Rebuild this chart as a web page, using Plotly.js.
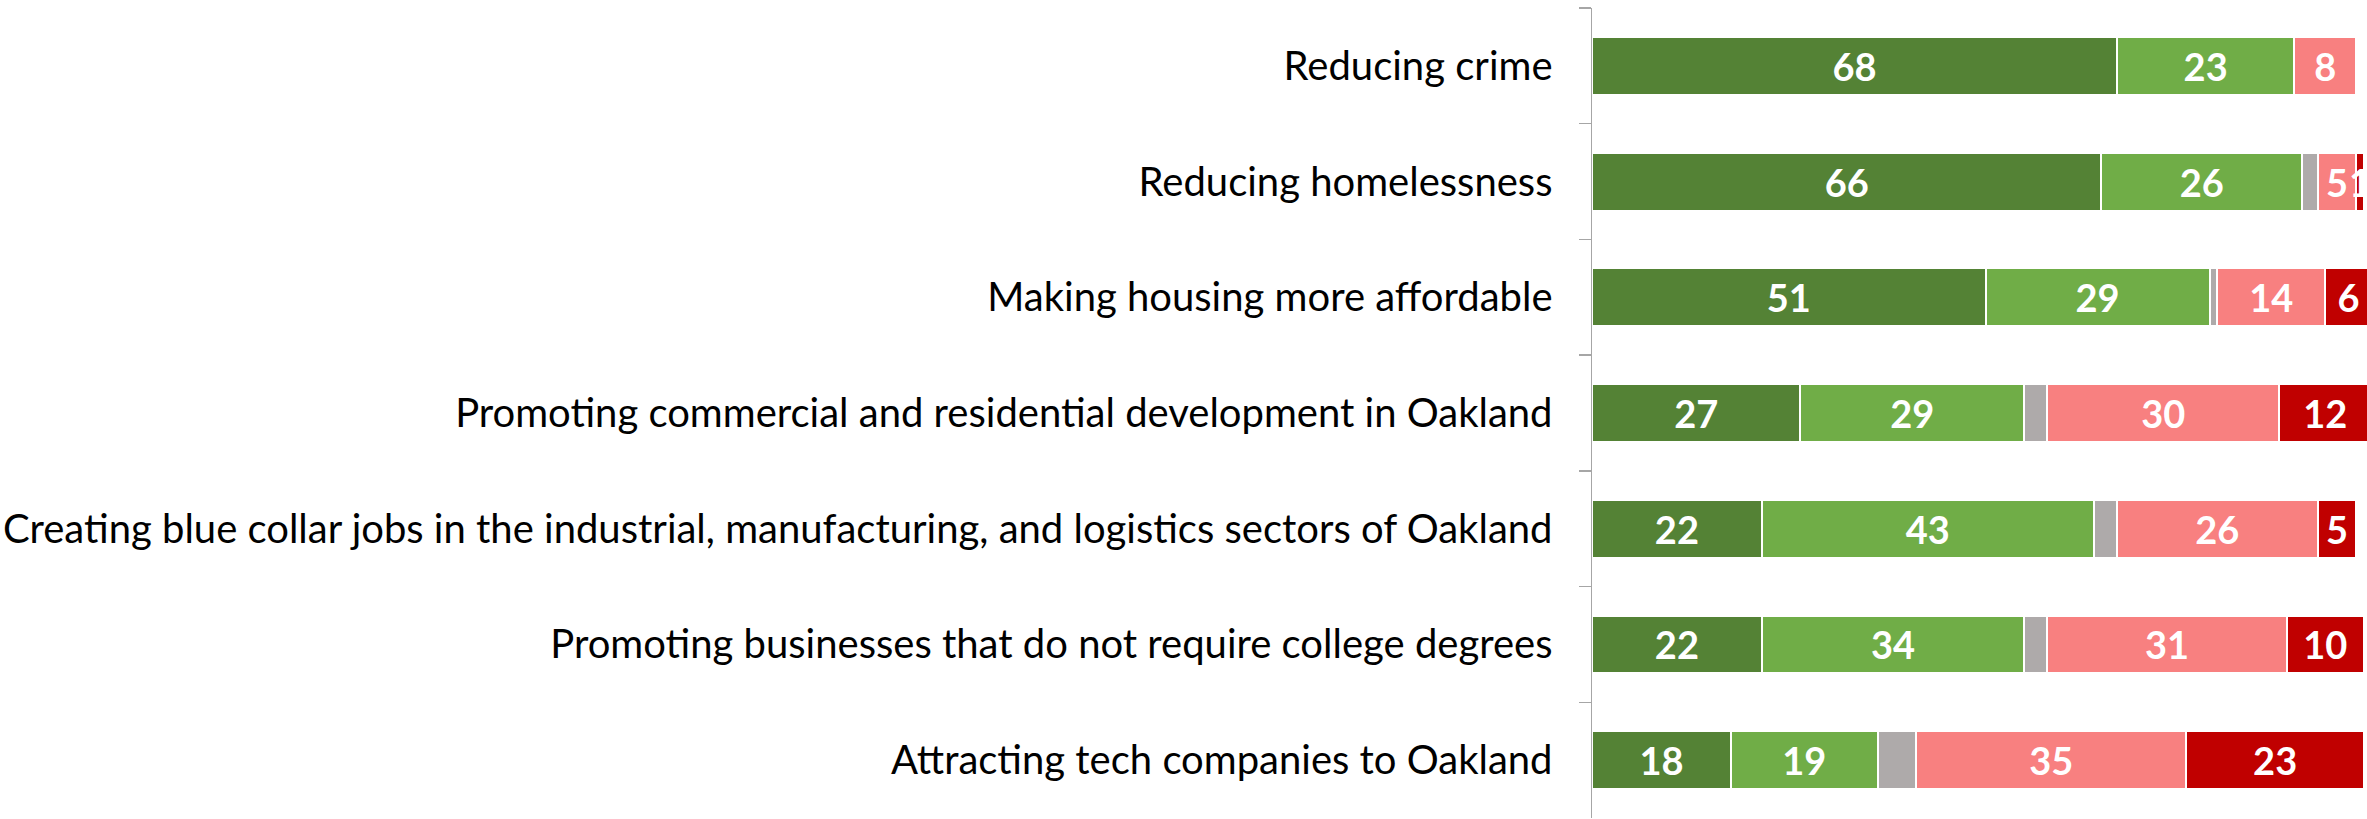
<!DOCTYPE html>
<html>
<head>
<meta charset="utf-8">
<script src="https://cdn.plot.ly/plotly-3.0.1.min.js"></script>
<style>
html,body{margin:0;padding:0;background:#fff;}
#chart{width:2367px;height:819px;}
</style>
</head>
<body>
<div id="chart"></div>
<script>
const categories = [
  "Reducing crime",
  "Reducing homelessness",
  "Making housing more affordable",
  "Promoting commercial and residential development in Oakland",
  "Creating blue collar jobs in the industrial, manufacturing, and logistics sectors of Oakland",
  "Promoting businesses that do not require college degrees",
  "Attracting tech companies to Oakland"
];
const seriesNames = ["Very important", "Somewhat important", "Don't know", "Not too important", "Not at all important"];
const darkGreen = [68, 66, 51, 27, 22, 22, 18];
const lightGreen = [23, 26, 29, 29, 43, 34, 19];
const gray = [0, 2, 1, 3, 3, 3, 5];
const pink = [8, 5, 14, 30, 26, 31, 35];
const darkRed = [0, 1, 6, 12, 5, 10, 23];
const colors = ["#548235", "#70AD47", "#AEAAAA", "#F88080", "#C00000"];
const showLabels = [true, true, false, true, true];

const allValues = [darkGreen, lightGreen, gray, pink, darkRed];
const traces = allValues.map((vals, i) => ({
  type: "bar",
  orientation: "h",
  name: seriesNames[i],
  y: categories,
  x: vals,
  text: vals.map(v => (showLabels[i] && v > 0) ? String(v) : ""),
  textposition: "inside",
  insidetextanchor: "middle",
  textangle: 0,
  constraintext: "none",
  cliponaxis: true,
  textfont: {family: "Lato, 'Open Sans', sans-serif", size: 38, color: "#ffffff", weight: 700},
  marker: {color: colors[i], line: {color: "#ffffff", width: 2}},
  hoverinfo: "x+y+name"
}));

const layout = {
  width: 2367,
  height: 819,
  barmode: "stack",
  bargap: 0.5,
  showlegend: false,
  paper_bgcolor: "#ffffff",
  plot_bgcolor: "#ffffff",
  margin: {l: 1592, r: 0, t: 8, b: 1, pad: 0},
  xaxis: {
    range: [0, 100.4],
    visible: false,
    fixedrange: true
  },
  yaxis: {
    type: "category",
    autorange: "reversed",
    tickson: "boundaries",
    ticks: "outside",
    ticklen: 12,
    tickwidth: 1.5,
    tickcolor: "#A6A6A6",
    showline: true,
    linecolor: "#A6A6A6",
    linewidth: 1.5,
    showgrid: false,
    zeroline: false,
    automargin: false,
    ticklabelstandoff: 30,
    tickfont: {family: "Lato, 'Open Sans', sans-serif", size: 40, color: "#000000"}
  }
};

Plotly.newPlot("chart", traces, layout, {displayModeBar: false, staticPlot: true});
</script>
</body>
</html>
